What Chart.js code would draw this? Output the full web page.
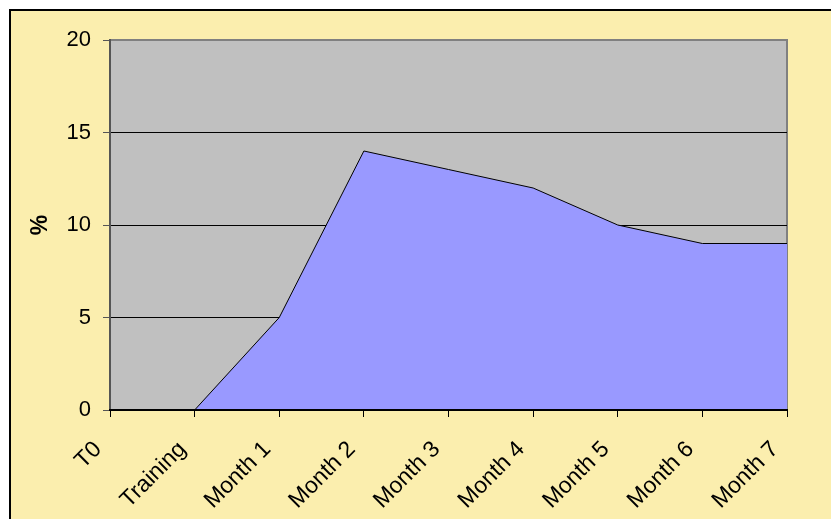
<!DOCTYPE html>
<html>
<head>
<meta charset="utf-8">
<script src="https://cdn.jsdelivr.net/npm/chart.js@4"></script>
<style>
    html, body { margin: 0; padding: 0; background: #ffffff; overflow: hidden; }
    #frame {
        position: absolute; left: 9px; top: 9px; width: 840px; height: 530px;
        background: #FBEEAE; border-top: 2px solid #000; border-left: 2px solid #000;
    }
    #wrap { position: absolute; left: 0; top: 0; width: 831px; height: 519px; }
</style>
</head>
<body>
<div id="frame"></div>
<div id="wrap"><canvas id="areaChart" width="831" height="519"></canvas></div>
<script>
const categories = ['T0', 'Training', 'Month 1', 'Month 2', 'Month 3', 'Month 4', 'Month 5', 'Month 6', 'Month 7'];
const percentValues = [0, 0, 5, 14, 13, 12, 10, 9, 9];
const yTicks = [0, 5, 10, 15, 20];

const plotBackground = {
    id: 'plotBackground',
    beforeDraw(chart) {
        const { ctx, chartArea: a } = chart;
        ctx.save();
        ctx.fillStyle = '#C0C0C0';
        ctx.fillRect(a.left, a.top, a.right - a.left, a.bottom - a.top);
        ctx.strokeStyle = '#808080';
        ctx.lineWidth = 2;
        ctx.beginPath();
        ctx.moveTo(a.left, a.top);
        ctx.lineTo(a.right, a.top);
        ctx.lineTo(a.right, a.bottom);
        ctx.stroke();
        ctx.restore();
    }
};

const family = 'Liberation Sans, Arial, sans-serif';

new Chart(document.getElementById('areaChart'), {
    type: 'line',
    data: {
        labels: categories,
        datasets: [{
            label: '%',
            data: percentValues,
            fill: 'origin',
            backgroundColor: '#9999FF',
            borderColor: '#000000',
            borderWidth: 1,
            pointRadius: 0,
            tension: 0
        }]
    },
    options: {
        responsive: false,
        animation: false,
        layout: { padding: { left: 0, top: 40, right: 44, bottom: 0 } },
        plugins: {
            legend: { display: false },
            tooltip: { enabled: false }
        },
        scales: {
            x: {
                offset: false,
                afterFit: s => { s.height = 109; },
                grid: { drawOnChartArea: false, color: '#000', tickLength: 7 },
                border: { color: '#000', width: 2, z: 1 },
                ticks: {
                    color: '#000',
                    font: { family: family, size: 23 },
                    minRotation: 45, maxRotation: 45,
                    padding: 19, labelOffset: -12, autoSkip: false
                }
            },
            y: {
                min: 0,
                max: 20,
                afterFit: s => { s.width = 110; },
                afterBuildTicks: s => { s.ticks = yTicks.map(v => ({ value: v })); },
                grid: {
                    color: c => (c.tick && c.tick.value === 20) ? '#808080' : '#000',
                    tickColor: '#555',
                    tickLength: 7
                },
                border: { color: '#555', width: 2 },
                ticks: { color: '#000', font: { family: family, size: 22 }, padding: 12 },
                title: {
                    display: true,
                    text: '%',
                    color: '#000',
                    font: { family: family, size: 23, weight: 'bold' },
                    padding: { top: 27, bottom: 0 }
                }
            }
        }
    },
    plugins: [plotBackground]
});
</script>
</body>
</html>
